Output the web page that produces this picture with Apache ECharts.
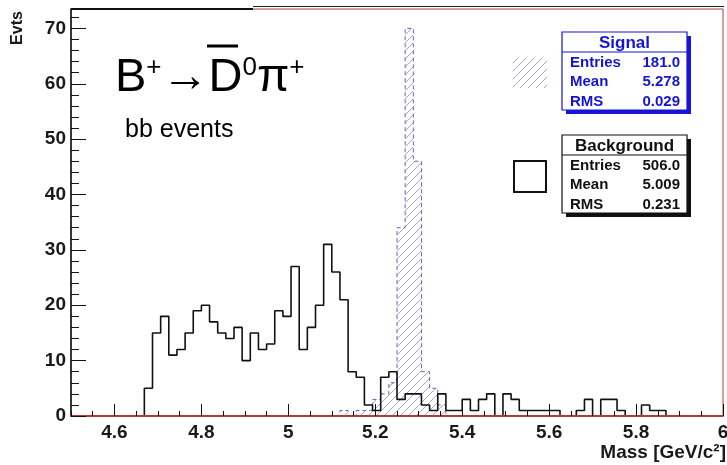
<!DOCTYPE html>
<html>
<head>
<meta charset="utf-8">
<script src="https://cdn.jsdelivr.net/npm/echarts@6/dist/echarts.min.js"></script>
<style>
html, body { margin: 0; padding: 0; background: #fff; }
#chart { width: 727px; height: 465px; }
</style>
</head>
<body>
<div id="chart"></div>
<script>
// 80 bins between 4.5 and 6.0 GeV/c2
const BIN_LO = 4.5;
const BIN_W = 0.01875;

// bb background, entries per bin
const BKG_COUNTS = [
    0, 0, 0, 0, 0, 0, 0, 0, 0, 5,
    15, 18, 11, 12, 15, 19, 20, 17, 15, 14,
    16, 10, 15, 12, 13, 19, 18, 27, 12, 16,
    20, 31, 26, 21, 8, 7, 2, 1, 7, 8,
    3, 4, 4, 2, 1, 4, 1, 1, 3, 1,
    3, 4, 0, 4, 3, 1, 1, 1, 1, 1,
    0, 0, 1, 3, 0, 3, 3, 1, 0, 0,
    2, 1, 1, 0, 0, 0, 0, 0, 0, 0
];

// signal B+ -> D0bar pi+, entries per bin
const SIG_COUNTS = [
    0, 0, 0, 0, 0, 0, 0, 0, 0, 0,
    0, 0, 0, 0, 0, 0, 0, 0, 0, 0,
    0, 0, 0, 0, 0, 0, 0, 0, 0, 0,
    0, 0, 0, 1, 0, 1, 1, 3, 4, 6,
    34, 70, 46, 8, 5, 2, 0, 0, 0, 0,
    0, 0, 0, 0, 0, 0, 0, 0, 0, 0,
    0, 0, 0, 0, 0, 0, 0, 0, 0, 0,
    0, 0, 0, 0, 0, 0, 0, 0, 0, 0
];

const X_TICKS = [4.6, 4.8, 5, 5.2, 5.4, 5.6, 5.8, 6];
const Y_TICKS = [0, 10, 20, 30, 40, 50, 60, 70];

const SIG_STATS = [['Entries', '181.0'], ['Mean', '5.278'], ['RMS', '0.029']];
const BKG_STATS = [['Entries', '506.0'], ['Mean', '5.009'], ['RMS', '0.231']];

const FONT = '"Liberation Sans", Arial, Helvetica, sans-serif';
const RED = '#b03a3a';
const SIG_BLUE = '#1414d2';

// left bin edges + closing point, drawn as step line
function toSteps(counts) {
    const pts = counts.map((v, k) => [BIN_LO + k * BIN_W, v]);
    pts.push([BIN_LO + counts.length * BIN_W, counts[counts.length - 1]]);
    return pts;
}

// "/" hatching like ROOT fill style 3004
function hatch(size, color) {
    const c = document.createElement('canvas');
    c.width = c.height = size;
    const g = c.getContext('2d');
    g.strokeStyle = color;
    g.lineWidth = 1;
    g.beginPath();
    g.moveTo(0, size); g.lineTo(size, 0);
    g.moveTo(-1, 1); g.lineTo(1, -1);
    g.moveTo(size - 1, size + 1); g.lineTo(size + 1, size - 1);
    g.stroke();
    return c;
}
const HATCH = { image: hatch(8, '#a6a6d2'), repeat: 'repeat' };

function statBox(x, y, title, rows, color) {
    const w = 125, h = 78, head = 20, rowH = 19.3;
    const els = [
        { type: 'rect', shape: { x: x + 4, y: y + 4, width: w, height: h }, style: { fill: color } },
        { type: 'rect', shape: { x: x, y: y, width: w, height: h }, style: { fill: '#fff', stroke: color, lineWidth: 1.2 } },
        { type: 'line', shape: { x1: x, y1: y + head, x2: x + w, y2: y + head }, style: { stroke: color, lineWidth: 1.2 } },
        { type: 'text', x: x + w / 2, y: y + head / 2 + 1, style: { text: title, fill: color, font: 'bold 17px ' + FONT, align: 'center', verticalAlign: 'middle' } }
    ];
    rows.forEach((r, i) => {
        const ty = y + head + 11 + i * rowH;
        els.push({ type: 'text', x: x + 8, y: ty, style: { text: r[0], fill: color, font: 'bold 15px ' + FONT, align: 'left', verticalAlign: 'middle' } });
        els.push({ type: 'text', x: x + w - 7, y: ty, style: { text: r[1], fill: color, font: 'bold 15px ' + FONT, align: 'right', verticalAlign: 'middle' } });
    });
    return els;
}

const chart = echarts.init(document.getElementById('chart'), null, { renderer: 'canvas' });

const option = {
    animation: false,
    backgroundColor: '#fff',
    grid: {
        left: 71, right: 4, top: 9, bottom: 49,
        containLabel: false, outerBoundsMode: 'none',
        show: true, borderColor: RED, borderWidth: 1
    },
    xAxis: [{
        type: 'value', min: 4.5, max: 6, interval: 0.05,
        position: 'bottom', z: 5,
        axisLine: { onZero: false, lineStyle: { color: RED, width: 2 } },
        axisTick: { inside: true, length: 5, lineStyle: { color: '#111', width: 1 } },
        axisLabel: {
            customValues: X_TICKS, margin: 7,
            color: '#1a1a1a', fontFamily: FONT, fontWeight: 'bold', fontSize: 19
        },
        splitLine: { show: false }
    }, {
        type: 'value', min: 4.5, max: 6, position: 'bottom', z: 5,
        axisLine: { show: false, onZero: false },
        axisTick: { inside: true, length: 12, customValues: X_TICKS, lineStyle: { color: '#111', width: 1 } },
        axisLabel: { show: false },
        splitLine: { show: false }
    }],
    yAxis: [{
        type: 'value', min: 0, max: 73.5, interval: 2,
        position: 'left', z: 5,
        axisLine: { show: true, onZero: false, lineStyle: { color: '#111', width: 1.5 } },
        axisTick: { inside: true, length: 8, lineStyle: { color: '#111', width: 1 } },
        axisLabel: {
            customValues: Y_TICKS, margin: 5,
            color: '#1a1a1a', fontFamily: FONT, fontWeight: 'bold', fontSize: 19
        },
        splitLine: { show: false }
    }, {
        type: 'value', min: 0, max: 73.5, position: 'left', z: 5,
        axisLine: { show: false, onZero: false },
        axisTick: { inside: true, length: 15, customValues: Y_TICKS, lineStyle: { color: '#111', width: 1 } },
        axisLabel: { show: false },
        splitLine: { show: false }
    }],
    series: [{
        name: 'Signal',
        type: 'line', step: 'end', symbol: 'none', silent: true,
        xAxisIndex: 0, yAxisIndex: 0,
        data: toSteps(SIG_COUNTS),
        lineStyle: { color: '#6262c0', width: 1, type: [4, 3] },
        areaStyle: { color: HATCH, opacity: 1 },
        z: 2
    }, {
        name: 'Background',
        type: 'line', step: 'end', symbol: 'none', silent: true,
        xAxisIndex: 0, yAxisIndex: 0,
        data: toSteps(BKG_COUNTS),
        lineStyle: { color: '#111', width: 1.6 },
        z: 3
    }],
    graphic: [
        // frame top edge
        { type: 'line', shape: { x1: 71, y1: 9, x2: 253, y2: 9 }, style: { stroke: '#111', lineWidth: 2 }, z: 10 },
        { type: 'line', shape: { x1: 253, y1: 6.5, x2: 724, y2: 6.5 }, style: { stroke: '#222', lineWidth: 1.2 }, z: 10 },
        // axis titles
        {
            type: 'text', x: 18, y: 28, rotation: Math.PI / 2,
            style: { text: 'Evts', font: 'bold 16px ' + FONT, fill: '#1a1a1a', align: 'center', verticalAlign: 'middle' }
        },
        {
            type: 'text', x: 726, y: 453,
            style: { text: 'Mass [GeV/c²]', font: 'bold 19px ' + FONT, fill: '#1a1a1a', align: 'right', verticalAlign: 'middle' }
        },
        // decay label
        {
            type: 'text', x: 115, y: 76,
            style: {
                text: '{b|B}{s|+}{b|→D}{s|0}{b|π}{s|+}',
                verticalAlign: 'middle',
                rich: {
                    b: { font: '47px ' + FONT, fill: '#000', lineHeight: 52, verticalAlign: 'bottom' },
                    s: { font: '26px ' + FONT, fill: '#000', lineHeight: 52, verticalAlign: 'top', padding: [5, 0, 0, 0] }
                }
            }
        },
        { type: 'line', shape: { x1: 207, y1: 46, x2: 238, y2: 46 }, style: { stroke: '#000', lineWidth: 3 } },
        {
            type: 'text', x: 125, y: 130,
            style: { text: 'bb events', font: '25px ' + FONT, fill: '#000', align: 'left', verticalAlign: 'middle' }
        },
        // legend markers
        { type: 'rect', shape: { x: 513, y: 58, width: 34, height: 30 }, style: { fill: HATCH, stroke: null } },
        { type: 'rect', shape: { x: 514, y: 161, width: 32, height: 31 }, style: { fill: '#fff', stroke: '#111', lineWidth: 2 } },
        ...statBox(562, 32, 'Signal', SIG_STATS, SIG_BLUE),
        ...statBox(562, 135, 'Background', BKG_STATS, '#111')
    ]
};

chart.setOption(option);
</script>
</body>
</html>
